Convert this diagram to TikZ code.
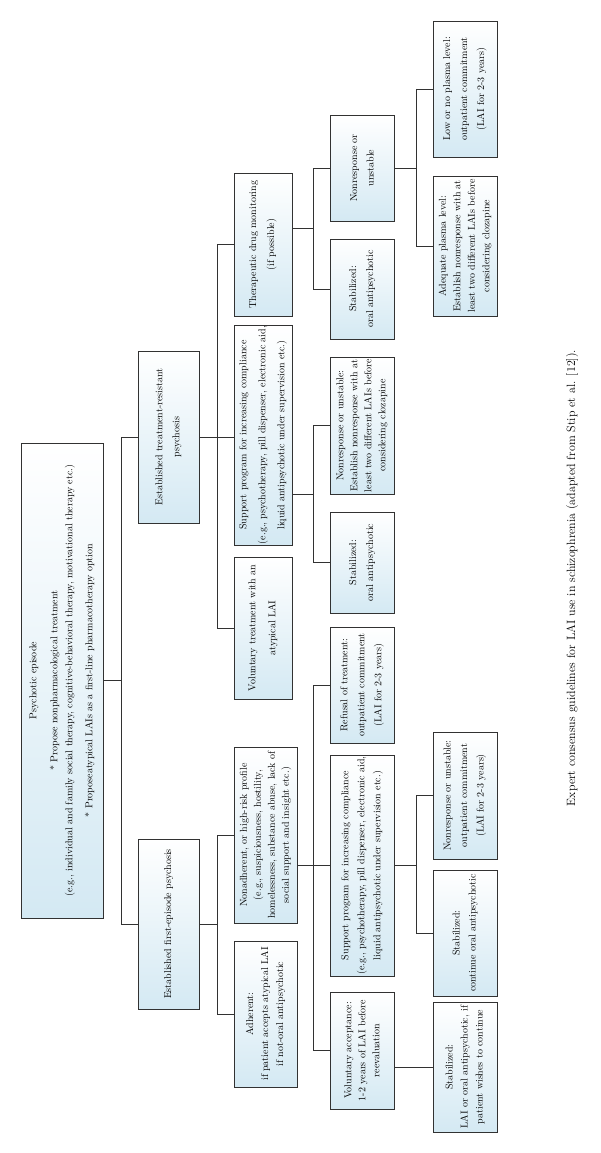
\documentclass[tikz,border=0pt]{standalone}
\usetikzlibrary{calc}
\definecolor{boxblue}{RGB}{212,233,243}
\definecolor{linec}{RGB}{50,50,50}
\begin{document}
\begin{tikzpicture}[x=1pt,y=-1pt,
  bx/.style={draw=linec, line width=0.9pt, rotate=90, align=center, inner sep=1pt,
    top color=white, bottom color=boxblue},
  fs/.style={font=\fontsize{10}{#1}\selectfont},
  conn/.style={draw=linec, line width=0.8pt}]
\useasboundingbox (0,0) rectangle (600,1153);
% level 0
\node[bx, fs=15, minimum width=475pt, minimum height=82pt] (root) at (62,680.5)
  {Psychotic episode\\[6pt] * Propose nonpharmacological treatment\\ (e.g., individual and family social therapy, cognitive-behavioral therapy, motivational therapy etc.)\\[5pt] * Proposeatypical LAIs as a first-line pharmacotherapy option};
% level 1
\node[bx, fs=17, minimum width=172pt, minimum height=61pt] (tr) at (168.5,437)
  {Established treatment-resistant\\ psychosis};
\node[bx, fs=15, minimum width=170pt, minimum height=61pt] (fe) at (168.5,924)
  {Established first-episode psychosis};
% level 2
\node[bx, fs=18, minimum width=143pt, minimum height=58pt] (tdm) at (263,244.5)
  {Therapeutic drug monitoring\\ (if possible)};
\node[bx, fs=19, minimum width=218pt, minimum height=58pt] (suptr) at (263,435)
  {Support program for increasing compliance\\ (e.g., psychotherapy, pill dispenser, electronic aid,\\ liquid antipsychotic under supervision etc.)};
\node[bx, fs=20, minimum width=142pt, minimum height=58pt] (vol) at (263,628)
  {Voluntary treatment with an\\ atypical LAI};
\node[bx, fs=14, minimum width=176pt, minimum height=63pt] (nonadh) at (265.5,835)
  {Nonadherent, or high-risk profile\\ (e.g., suspiciousness, hostility,\\ homelessness, substance abuse, lack of\\ social support and insight etc.)};
\node[bx, fs=15, minimum width=146pt, minimum height=63pt] (adh) at (265.5,1014)
  {Adherent:\\ if patient accepts atypical LAI\\ if not-oral antipsychotic};
% level 3
\node[bx, fs=16.5, minimum width=106pt, minimum height=64pt] (nrtdm) at (362,168)
  {Nonresponse or\\ unstable};
\node[bx, fs=17, minimum width=100pt, minimum height=64pt] (sttdm) at (362,289)
  {Stabilized:\\ oral antipsychotic};
\node[bx, fs=14, minimum width=137pt, minimum height=64pt] (nrtr) at (362,425.5)
  {Nonresponse or unstable:\\ Establish nonresponse with at\\ least two different LAIs before\\ considering clozapine};
\node[bx, fs=17, minimum width=101pt, minimum height=64pt] (sttr) at (362,562.5)
  {Stabilized:\\ oral antipsychotic};
\node[bx, fs=17, minimum width=116pt, minimum height=64pt] (refusal) at (362,685)
  {Refusal of treatment:\\ outpatient commitment\\ (LAI for 2-3 years)};
\node[bx, fs=16, minimum width=221pt, minimum height=64pt] (supfe) at (362,865.5)
  {Support program for increasing compliance\\ (e.g., psychotherapy, pill dispenser, electronic aid,\\ liquid antipsychotic under supervision etc.)};
\node[bx, fs=14, minimum width=117pt, minimum height=64pt] (va) at (362,1050.5)
  {Voluntary acceptance:\\ 1-2 years of LAI before\\ reevaluation};
% level 4
\node[bx, fs=17, minimum width=136pt, minimum height=64pt] (low) at (465,89)
  {Low or no plasma level:\\ outpatient commitment\\ (LAI for 2-3 years)};
\node[bx, fs=14.5, minimum width=140pt, minimum height=64pt] (adq) at (465,246)
  {Adequate plasma level:\\ Establish nonresponse with at\\ least two different LAIs before\\ considering clozapine};
\node[bx, fs=16.5, minimum width=127pt, minimum height=64pt] (nrfe) at (465,795.5)
  {Nonresponse or unstable:\\ outpatient commitment\\ (LAI for 2-3 years)};
\node[bx, fs=16, minimum width=126pt, minimum height=64pt] (stfe) at (465,933)
  {Stabilized:\\ continue oral antipsychotic};
\node[bx, fs=15, minimum width=130pt, minimum height=64pt] (stlai) at (465,1067)
  {Stabilized:\\ LAI or oral antipsychotic, if\\ patient wishes to continue};
% caption
\node[rotate=90, font=\fontsize{12}{14}\selectfont] (cap) at (572,578)
  {Expert consensus guidelines for LAI use in schizophrenia (adapted from Stip et al. [12]).};
% trunks
\coordinate (t1) at (121,0);
\coordinate (t2) at (217,0);
\coordinate (t3) at (313,0);
\coordinate (t4) at (416,0);
\coordinate (m1) at ($(nrtr.north)!0.5!(sttr.north)$);
\coordinate (m2) at ($(nrtdm.north)!0.5!(sttdm.north)$);
% root -> level 1
\draw[conn] (root.south) -- (root.south -| t1);
\draw[conn] (t1 |- tr.north) -- (t1 |- fe.north);
\draw[conn] (tr.north) -- (t1 |- tr.north);
\draw[conn] (fe.north) -- (t1 |- fe.north);
% tr -> level 2
\draw[conn] (tr.south) -- (suptr.north |- tr.south);
\draw[conn] (t2 |- tdm.north) -- (t2 |- vol.north);
\draw[conn] (tdm.north) -- (t2 |- tdm.north);
\draw[conn] (vol.north) -- (t2 |- vol.north);
% fe -> level 2
\draw[conn] (fe.south) -- (t2 |- fe.south);
\draw[conn] (t2 |- nonadh.north) -- (t2 |- adh.north);
\draw[conn] (nonadh.north) -- (t2 |- nonadh.north);
\draw[conn] (adh.north) -- (t2 |- adh.north);
% tdm -> level 3
\draw[conn] (tdm.south |- m2) -- (t3 |- m2);
\draw[conn] (t3 |- nrtdm.north) -- (t3 |- sttdm.north);
\draw[conn] (nrtdm.north) -- (t3 |- nrtdm.north);
\draw[conn] (sttdm.north) -- (t3 |- sttdm.north);
% suptr -> level 3
\draw[conn] (suptr.south |- m1) -- (t3 |- m1);
\draw[conn] (t3 |- nrtr.north) -- (t3 |- sttr.north);
\draw[conn] (nrtr.north) -- (t3 |- nrtr.north);
\draw[conn] (sttr.north) -- (t3 |- sttr.north);
% nonadh -> level 3
\draw[conn] (nonadh.south |- supfe.north) -- (supfe.north);
\draw[conn] (t3 |- refusal.north) -- (t3 |- va.north);
\draw[conn] (refusal.north) -- (t3 |- refusal.north);
\draw[conn] (va.north) -- (t3 |- va.north);
% nrtdm -> level 4
\draw[conn] (nrtdm.south) -- (t4 |- nrtdm.south);
\draw[conn] (t4 |- low.north) -- (t4 |- adq.north);
\draw[conn] (low.north) -- (t4 |- low.north);
\draw[conn] (adq.north) -- (t4 |- adq.north);
% supfe -> level 4
\draw[conn] (supfe.south) -- (t4 |- supfe.south);
\draw[conn] (t4 |- nrfe.north) -- (t4 |- stfe.north);
\draw[conn] (nrfe.north) -- (t4 |- nrfe.north);
\draw[conn] (stfe.north) -- (t4 |- stfe.north);
% va -> level 4
\draw[conn] (va.south |- stlai.north) -- (stlai.north);
\end{tikzpicture}
\end{document}
